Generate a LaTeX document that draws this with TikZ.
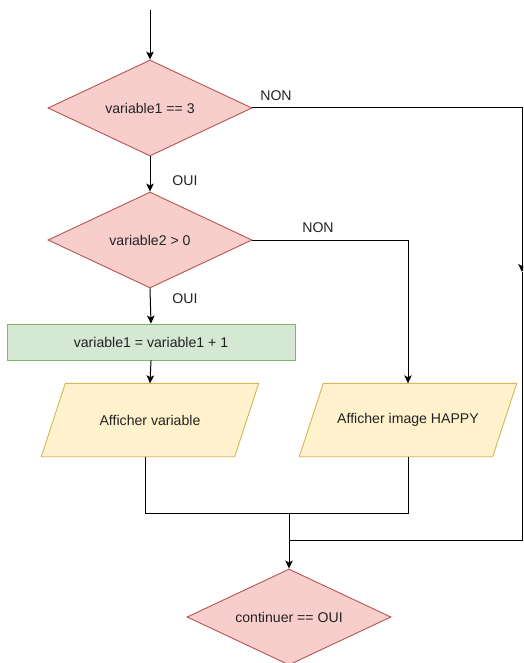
\documentclass[tikz,border=0pt]{standalone}
\usepackage{fontspec}
\setmainfont{Liberation Sans}
\usetikzlibrary{shapes.geometric,arrows.meta,backgrounds}
\definecolor{redfill}{HTML}{F8CECC}
\definecolor{redline}{HTML}{B85450}
\definecolor{greenfill}{HTML}{D5E8D4}
\definecolor{greenline}{HTML}{82B366}
\definecolor{yellowfill}{HTML}{FFF2CC}
\definecolor{yellowline}{HTML}{D6B656}
\definecolor{txt}{HTML}{222222}
\begin{document}
\begin{tikzpicture}[x=1pt,y=-1pt,
  every node/.style={font=\fontsize{14.1}{16}\selectfont, text=txt},
  decision/.style={diamond, draw=redline, fill=redfill, line width=0.9pt, inner sep=0pt, minimum width=204pt, minimum height=96pt, aspect=2.125},
  process/.style={rectangle, draw=greenline, fill=greenfill, line width=0.9pt, minimum width=288pt, minimum height=36pt, inner sep=0pt},
  iobox/.style={rectangle, minimum width=217pt, minimum height=73pt, inner sep=0pt},
  iofill/.style={draw=yellowline, fill=yellowfill, line width=0.9pt},
  conn/.style={draw, line width=1pt, black},
  arr/.style={conn, -{Stealth[length=8pt,width=7.5pt,inset=2pt]}},
  lbl/.style={inner sep=0pt}
]
\useasboundingbox (0,0) rectangle (523,663);
\clip (0,0) rectangle (523,663);

\node[decision] (d1) at (150,108) {variable1 == 3};
\node[decision] (d2) at (150,240) {variable2 > 0};
\node[process] (r1) at (151,342) {variable1 = variable1 + 1};
\node[iobox] (p1) at (150,420) {Afficher variable};
\node[iobox] (p2) at (408,420) {Afficher image HAPPY};
\node[decision] (d3) at (289,617) {continuer == OUI};

\begin{scope}[on background layer]
  \foreach \p in {p1,p2} {
    \path[iofill] ([xshift=24pt]\p.north west) -- (\p.north east) -- ([xshift=-24pt]\p.south east) -- (\p.south west) -- cycle;
  }
\end{scope}

\coordinate (start) at (150,10);
\coordinate (c1) at (522,108);
\coordinate (c1m) at (522,272);
\coordinate (c1b) at (522,540);
\coordinate (j2) at (289,540);
\coordinate (c2) at (408,240);
\coordinate (b1) at (145,513);
\coordinate (b2) at (408,513);
\coordinate (j1) at (289,513);

\draw[arr] (start) -- (d1.north);
\draw[arr] (d1.south) -- (d2.north);
\node[lbl] at (185,181) {OUI};
\draw[arr] (d2.south) -- (r1.north);
\node[lbl] at (185,299) {OUI};
\draw[arr] (r1.south) -- (p1.north);

\draw[arr] (d1.east) -- (c1) -- (c1m);
\draw[conn] (c1m) -- (c1b) -- (j2);
\node[lbl] at (276,96) {NON};

\draw[arr] (d2.east) -- (c2) -- (p2.north);
\node[lbl] at (318,228) {NON};

\draw[conn] (p1.south -| b1) -- (b1) -- (b2) -- (p2.south);
\draw[arr] (j1) -- (d3.north);
\end{tikzpicture}
\end{document}
